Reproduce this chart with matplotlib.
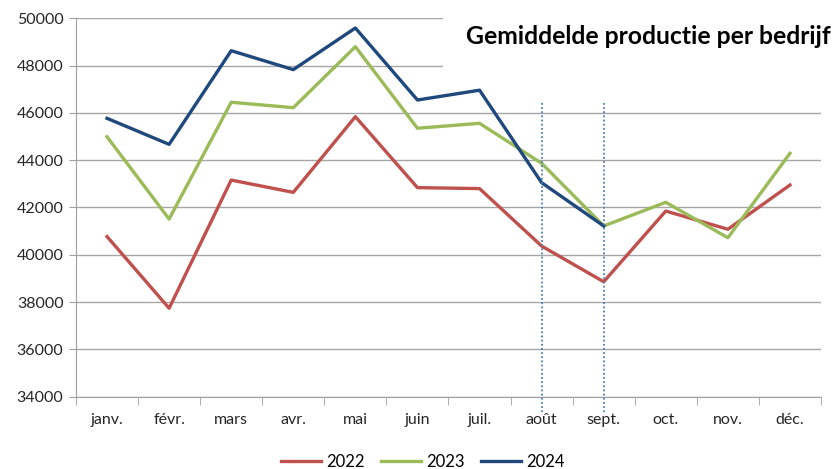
import matplotlib
matplotlib.use("Agg")
import matplotlib.pyplot as plt
from matplotlib.patches import Rectangle

months = ["janv.", "févr.", "mars", "avr.", "mai", "juin", "juil.", "août",
          "sept.", "oct.", "nov.", "déc."]
y2022 = [40770, 37740, 43160, 42640, 45840, 42840, 42800, 40370, 38860, 41850, 41080, 42950]
y2023 = [44990, 41510, 46450, 46220, 48800, 45350, 45560, 43870, 41220, 42220, 40720, 44290]
y2024 = [45770, 44670, 48630, 47830, 49590, 46545, 46960, 43050, 41220]
yticks = [34000, 36000, 38000, 40000, 42000, 44000, 46000, 48000, 50000]
marked_months = ["août", "sept."]
title = "Gemiddelde productie per bedrijf"

plt.rcParams['font.family'] = ['Lato', 'DejaVu Sans']

fig = plt.figure(figsize=(8.37, 4.69), dpi=100)
ax = fig.add_axes([76/837, 1-396.7/469, (821-76)/837, (396.7-18.3)/469])

x = list(range(len(months)))
ax.plot(x, y2022, color='#c0504d', lw=2.4, label='2022', solid_joinstyle='round', zorder=3)
ax.plot(x, y2023, color='#9bbb59', lw=2.4, label='2023', solid_joinstyle='round', zorder=3)
ax.plot(x[:len(y2024)], y2024, color='#1f497d', lw=2.4, label='2024', solid_joinstyle='round', zorder=4)

for m in marked_months:
    i = months.index(m)
    ax.plot([i, i], [46400, 33350], color='#4a7ebb', lw=1.3, ls=(0, (1, 1.3)),
            clip_on=False, zorder=5)

ax.set_xlim(-0.5, len(months) - 0.5)
ax.set_ylim(34000, 50000)
ax.set_yticks(yticks)
ax.set_yticklabels([str(v) for v in yticks], fontsize=11.5, color='#262626')
ax.set_xticks(x)
ax.set_xticklabels(months, fontsize=11.5, color='#262626')
ax.set_xticks([i - 0.5 for i in range(len(months) + 1)], minor=True)
ax.tick_params(axis='x', which='major', length=0, pad=12)
ax.tick_params(axis='x', which='minor', length=6, color='#a0a0a0')
ax.tick_params(axis='y', length=5, color='#a0a0a0', pad=4)

ax.grid(axis='y', color='#a6a6a6', lw=1)
ax.set_axisbelow(True)
for s in ['top', 'right']:
    ax.spines[s].set_visible(False)
for s in ['left', 'bottom']:
    ax.spines[s].set_color('#a0a0a0')

# white title area covering gridlines
ax.add_patch(Rectangle((443/837, 1-85/469), 1, 85/469, transform=fig.transFigure,
                       facecolor='white', edgecolor='none', zorder=2, clip_on=False))
fig.text(831/837, 1-37/469, title, ha='right', va='center', fontsize=17.8,
         fontweight='bold', color='black', zorder=6)

fig.legend(loc='center', bbox_to_anchor=(423/837, 1-462/469), ncol=3, frameon=False,
           fontsize=12, handlelength=2.4, columnspacing=1.0, handletextpad=0.3,
           borderpad=0, borderaxespad=0)

fig.savefig('out.png', dpi=100)
